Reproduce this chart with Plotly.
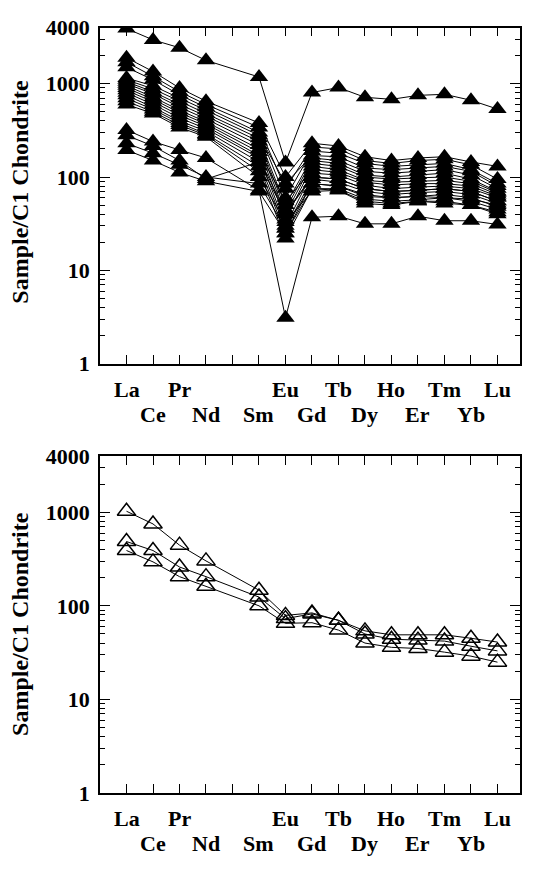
import plotly.graph_objects as go
import math

# REE elements (Pm omitted; position 5 left empty)
elements = ["La", "Ce", "Pr", "Nd", "Sm", "Eu", "Gd", "Tb", "Dy", "Ho", "Er", "Tm", "Yb", "Lu"]
positions = [1, 2, 3, 4, 6, 7, 8, 9, 10, 11, 12, 13, 14, 15]

# Upper panel: chondrite-normalised values
s_high = [3900, 2950, 2430, 1780, 1180, 143, 805, 910, 715, 680, 750, 770, 665, 535]
m01 = [1900, 1350, 900, 650, 380, 100, 230, 215, 165, 150, 160, 165, 145, 130]
m02 = [1700, 1200, 820, 600, 340, 75, 210, 200, 150, 140, 150, 155, 135, 95]
m03 = [1500, 1100, 760, 560, 300, 60, 190, 180, 140, 130, 135, 140, 120, 85]
m04 = [1150, 950, 700, 520, 280, 85, 170, 165, 125, 120, 125, 130, 115, 80]
m05 = [1100, 880, 650, 480, 260, 50, 160, 150, 115, 110, 115, 120, 105, 75]
m06 = [1050, 820, 600, 450, 240, 45, 150, 140, 105, 100, 105, 110, 95, 70]
m07 = [1000, 780, 560, 420, 220, 40, 140, 130, 100, 95, 98, 100, 90, 68]
m08 = [950, 720, 520, 390, 200, 35, 130, 120, 92, 88, 90, 92, 85, 65]
m09 = [900, 680, 490, 370, 185, 55, 120, 112, 88, 82, 85, 85, 80, 62]
m10 = [850, 640, 460, 350, 170, 30, 110, 105, 82, 75, 78, 80, 75, 60]
m11 = [800, 600, 430, 330, 160, 42, 100, 95, 75, 70, 72, 75, 70, 55]
m12 = [750, 560, 400, 310, 145, 28, 95, 88, 70, 65, 68, 70, 65, 52]
m13 = [700, 530, 380, 290, 130, 25, 85, 80, 62, 60, 62, 65, 60, 48]
m14 = [650, 500, 360, 280, 115, 22, 75, 75, 58, 55, 57, 60, 55, 45]
m15 = [600, 480, 340, 270, 100, 33, 70, 72, 52, 50, 55, 55, 50, 40]
l01 = [320, 240, 195, 160, 72, 3.1, 37, 38, 31.5, 31.5, 38, 34, 34, 31]
l02 = [280, 215, 150, 95, 145, 40, 100, 95, 75, 70, 72, 75, 70, 55]
l03 = [230, 180, 135, 100, 85, 28, 85, 80, 65, 60, 62, 60, 58, 50]
l04 = [195, 150, 112, 90, 70, 25, 75, 72, 55, 52, 55, 52, 50, 42]
upper_series = [s_high, m01, m02, m03, m04, m05, m06, m07, m08, m09, m10,
                m11, m12, m13, m14, m15, l01, l02, l03, l04]

# Lower panel
b01 = [1025, 750, 445, 302, 147, 79, 84, 70, 54, 49, 49, 49, 45, 41]
b02 = [486, 390, 260, 205, 124, 73, 82, 70, 50, 44, 43, 42, 37, 33]
b03 = [390, 295, 205, 162, 100, 65, 66, 55, 40, 36, 35, 32, 29, 25]
lower_series = [b01, b02, b03]

# y-axis ticks
ytick_vals = [1, 10, 100, 1000, 4000]
ytick_text = ["1", "10", "100", "1000", "4000"]
yminor_vals = [m * 10 ** d for d in range(0, 4) for m in range(2, 10) if m * 10 ** d < 4000]

# x-axis label rows
row1 = [(1, "La"), (3, "Pr"), (7, "Eu"), (9, "Tb"), (11, "Ho"), (13, "Tm"), (15, "Lu")]
row2 = [(2, "Ce"), (4, "Nd"), (6, "Sm"), (8, "Gd"), (10, "Dy"), (12, "Er"), (14, "Yb")]

FONT = "Liberation Serif"
W, H = 533, 873

fig = go.Figure()
for s in upper_series:
    fig.add_trace(go.Scatter(
        x=positions, y=s, mode="lines+markers", xaxis="x", yaxis="y",
        line=dict(color="black", width=1),
        marker=dict(symbol="triangle-up", size=16, color="black"),
        showlegend=False, hoverinfo="skip"))
for s in lower_series:
    fig.add_trace(go.Scatter(
        x=positions, y=s, mode="lines+markers", xaxis="x2", yaxis="y2",
        line=dict(color="black", width=1),
        marker=dict(symbol="triangle-up-open", size=16, color="black",
                    line=dict(width=1.5, color="black")),
        showlegend=False, hoverinfo="skip"))

xdom = [100 / W, 520 / W]
ydom_top = [1 - 362 / H, 1 - 16 / H]
ydom_bot = [1 - 804 / H, 1 - 457 / H]

def xaxis_cfg(anchor):
    return dict(domain=xdom, range=[0, 15.85], anchor=anchor,
                tickvals=list(range(1, 16)), showticklabels=False,
                ticks="inside", ticklen=9, tickwidth=1.2, tickcolor="black",
                showline=True, linecolor="black", linewidth=1.5, mirror="ticks",
                showgrid=False, zeroline=False)

def yaxis_cfg(anchor, dom):
    return dict(domain=dom, type="log", range=[0, math.log10(4000)], anchor=anchor,
                tickvals=ytick_vals, ticktext=ytick_text,
                ticks="inside", ticklen=10, tickwidth=1.2, tickcolor="black",
                minor=dict(tickvals=yminor_vals, ticks="inside", ticklen=5,
                           tickwidth=1, tickcolor="black", showgrid=False),
                tickfont=dict(family=FONT, size=22, color="black", weight="bold"),
                ticklabelstandoff=4,
                showline=True, linecolor="black", linewidth=1.5, mirror="ticks",
                showgrid=False, zeroline=False)

fig.update_layout(
    width=W, height=H, paper_bgcolor="white", plot_bgcolor="white",
    margin=dict(l=0, r=0, t=0, b=0),
    xaxis=xaxis_cfg("y"), yaxis=yaxis_cfg("x", ydom_top),
    xaxis2=xaxis_cfg("y2"), yaxis2=yaxis_cfg("x2", ydom_bot),
)

annotations = []
for xr, yr in (("x", "y domain"), ("x2", "y2 domain")):
    for pos, lab in row1:
        annotations.append(dict(x=pos, y=0, xref=xr, yref=yr, text=lab, showarrow=False,
                                yanchor="middle", yshift=-26,
                                font=dict(family=FONT, size=22, color="black", weight="bold")))
    for pos, lab in row2:
        annotations.append(dict(x=pos, y=0, xref=xr, yref=yr, text=lab, showarrow=False,
                                yanchor="middle", yshift=-51,
                                font=dict(family=FONT, size=22, color="black", weight="bold")))
for cy in (1 - 185 / H, 1 - 630 / H):
    annotations.append(dict(x=20 / W, y=cy, xref="paper", yref="paper",
                            text="Sample/C1 Chondrite", textangle=-90, showarrow=False,
                            xanchor="center", yanchor="middle",
                            font=dict(family=FONT, size=24, color="black", weight="bold")))
fig.update_layout(annotations=annotations)

fig.write_html("out.html", config={"displayModeBar": False},
               post_script="document.body.style.margin='0';document.body.style.overflow='hidden';")
